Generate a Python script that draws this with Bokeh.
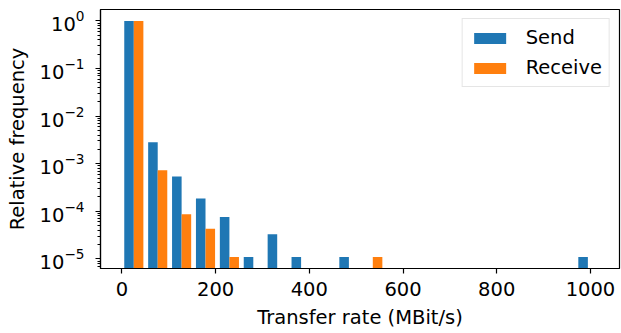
import numpy as np
from bokeh.plotting import figure
from bokeh.models import ColumnDataSource, Range1d, FixedTicker
from bokeh.embed import file_html
from bokeh.resources import INLINE

# ---- data (relative frequency per bin) ----
bin_start = 0.0
bin_width = 51.0
send = [0.9963, 2.83e-3, 5.4e-4, 1.85e-4, 7.6e-5, 1.09e-5, 3.3e-5, 1.09e-5, 0.0, 1.09e-5,
        0.0, 0.0, 0.0, 0.0, 0.0, 0.0, 0.0, 0.0, 0.0, 1.09e-5]
receive = [0.9991, 7.3e-4, 8.7e-5, 4.3e-5, 1.09e-5, 0.0, 0.0, 0.0, 0.0, 0.0,
           1.09e-5, 0.0, 0.0, 0.0, 0.0, 0.0, 0.0, 0.0, 0.0, 0.0]
series_names = ["Send", "Receive"]
x_ticks = [0, 200, 400, 600, 800, 1000]
y_ticks = [1e-5, 1e-4, 1e-3, 1e-2, 1e-1, 1e0]
x_label = "Transfer rate (MBit/s)"
y_label = "Relative frequency"

colors = ["#1f77b4", "#ff7f0e"]
FONT = "DejaVu Sans"
FS = "19.5px"

p = figure(width=621, height=333, y_axis_type="log",
           x_range=Range1d(-45.6, 1062), y_range=Range1d(6.28e-6, 1.736),
           output_backend="svg", toolbar_location=None,
           min_border_left=100, min_border_right=2, min_border_top=9, min_border_bottom=65)

bottom = 1e-9
for k, (name, vals) in enumerate(zip(series_names, [send, receive])):
    edges = bin_start + bin_width * np.arange(len(vals))
    centers = edges + bin_width * (0.3 + 0.4 * k)
    v = np.array(vals)
    m = v > 0
    src = ColumnDataSource(dict(x=centers[m], top=v[m]))
    p.vbar(x="x", top="top", bottom=bottom, width=bin_width * 0.4, source=src,
           fill_color=colors[k], line_color=None, legend_label=name)

p.grid.visible = False
p.outline_line_color = "black"
p.outline_line_width = 1.2
p.outline_line_alpha = 1

p.xaxis.ticker = FixedTicker(ticks=x_ticks)
minor = [m * 10.0 ** d for d in range(-6, 1) for m in range(2, 10)]
p.yaxis.ticker = FixedTicker(ticks=y_ticks, minor_ticks=minor)

for ax in [p.xaxis[0], p.yaxis[0]]:
    ax.axis_line_color = "black"
    ax.axis_line_width = 1.2
    ax.major_tick_line_color = "black"
    ax.major_tick_line_width = 1.2
    ax.major_tick_out = 5
    ax.major_tick_in = 0
    ax.minor_tick_line_color = "black"
    ax.minor_tick_out = 3
    ax.minor_tick_in = 0
    ax.major_label_text_font = FONT
    ax.major_label_text_font_size = FS
    ax.major_label_text_color = "black"
    ax.axis_label_text_font = FONT
    ax.axis_label_text_font_size = FS
    ax.axis_label_text_font_style = "normal"
    ax.axis_label_text_color = "black"

p.xaxis.axis_label = x_label
p.yaxis.axis_label = y_label
p.xaxis.minor_tick_line_color = None
p.xaxis.major_label_standoff = 8
p.yaxis.major_label_standoff = 11
p.xaxis.axis_label_standoff = 7
p.yaxis.axis_label_standoff = 8

lg = p.legend[0]
lg.location = "top_right"
lg.margin = 9
lg.padding = 7
lg.spacing = 7
lg.glyph_width = 40
lg.glyph_height = 14
lg.label_height = 22
lg.label_standoff = 16
lg.label_text_font = FONT
lg.label_text_font_size = FS
lg.label_text_color = "black"
lg.border_line_color = "#cccccc"
lg.border_line_width = 1
lg.background_fill_alpha = 0.8

open("out.html", "w").write(file_html(p, INLINE))
